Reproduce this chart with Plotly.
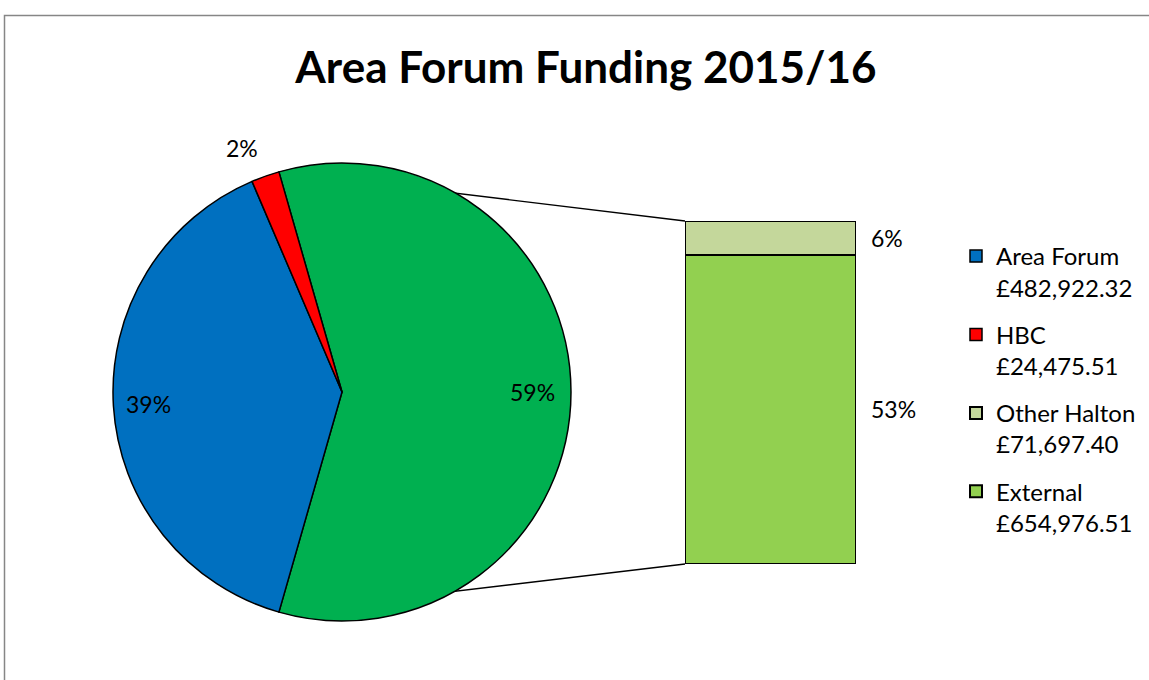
import math
import plotly.graph_objects as go

# ---------------- data ----------------
categories = ["Area Forum", "HBC", "Other Halton", "External"]
amounts = [482922.32, 24475.51, 71697.40, 654976.51]
amount_labels = ["£482,922.32", "£24,475.51", "£71,697.40", "£654,976.51"]
colors = ["#0070C0", "#FF0000", "#C4D79B", "#92D050"]
other_color = "#00B050"
title_text = "Area Forum Funding 2015/16"

# ---------------- layout constants (page pixels) ----------------
W, H = 1149, 680
FONT = "Lato"
pie_cx, pie_cy, pie_r = 342, 392, 229
bar_x0, bar_x1, bar_ytop, bar_ybot = 685, 856, 221, 564

def px(x):
    return x / W

def py(y):
    return 1 - y / H

total = sum(amounts)
other_total = amounts[2] + amounts[3]
pie_labels = ["Other", categories[0], categories[1]]
pie_values = [other_total, amounts[0], amounts[1]]
pie_colors = [other_color, colors[0], colors[1]]

other_deg = other_total / total * 360.0
rotation = 90 - other_deg / 2  # compass angle where the "Other" slice starts

fig = go.Figure()

fig.add_trace(go.Pie(
    labels=pie_labels, values=pie_values, sort=False, direction="clockwise",
    rotation=rotation, textinfo="none", hoverinfo="label+value+percent",
    marker=dict(colors=pie_colors, line=dict(color="black", width=1.5)),
    domain=dict(x=[px(pie_cx - pie_r), px(pie_cx + pie_r)],
                y=[py(pie_cy + pie_r), py(pie_cy - pie_r)]),
    showlegend=False,
))

# dummy legend items for pie categories
for i in range(2):
    fig.add_trace(go.Bar(
        x=[None], y=[None], name=f"{categories[i]}<br>{amount_labels[i]}",
        marker=dict(color=colors[i], line=dict(color="black", width=1.5)),
        legendrank=i + 1, legendgroup=categories[i], xaxis="x", yaxis="y",
    ))

# stacked bar (External bottom, Other Halton top)
for i in (3, 2):
    fig.add_trace(go.Bar(
        x=[0], y=[amounts[i]], width=[1], name=f"{categories[i]}<br>{amount_labels[i]}",
        marker=dict(color=colors[i], line=dict(color="black", width=2)),
        legendrank=i + 1, legendgroup=categories[i], xaxis="x", yaxis="y",
        hoverinfo="name+y",
    ))

annotations = []
# pie percent labels
label_r = [0.834, 0.846, 1.15]
label_dang = [0, 0, -2.7]
cum = 0.0
for j, v in enumerate(pie_values):
    start = rotation + cum / total * 360
    cum += v
    end = rotation + cum / total * 360
    mid = math.radians((start + end) / 2 + label_dang[j])
    rr = pie_r * label_r[j]
    lx = pie_cx + rr * math.sin(mid)
    ly = pie_cy - rr * math.cos(mid)
    annotations.append(dict(
        x=px(lx), y=py(ly), xref="paper", yref="paper", showarrow=False,
        text=f"{round(v / total * 100)}%", font=dict(family=FONT, size=23, color="black"),
        xanchor="center", yanchor="middle",
    ))

# bar percent labels
base = 0.0
for i in (3, 2):
    annotations.append(dict(
        x=0.5, y=base + amounts[i] / 2, xref="x", yref="y", showarrow=False,
        text=f"{round(amounts[i] / total * 100)}%", font=dict(family=FONT, size=23, color="black"),
        xanchor="left", yanchor="middle", xshift=13,
    ))
    base += amounts[i]

# connector lines from pie "Other" slice edges to bar corners
a0 = math.radians(rotation)
a1 = math.radians(rotation + other_deg)
shapes = [
    dict(type="line", xref="paper", yref="paper",
         x0=px(pie_cx + pie_r * math.sin(a0)), y0=py(pie_cy - pie_r * math.cos(a0)),
         x1=px(bar_x0), y1=py(bar_ytop), line=dict(color="black", width=1.4), layer="below"),
    dict(type="line", xref="paper", yref="paper",
         x0=px(pie_cx + pie_r * math.sin(a1)), y0=py(pie_cy - pie_r * math.cos(a1)),
         x1=px(bar_x0), y1=py(bar_ybot), line=dict(color="black", width=1.4), layer="below"),
    # chart area border
    dict(type="rect", xref="paper", yref="paper", x0=px(4.5), y0=py(15.5), x1=1.05, y1=-0.05,
         line=dict(color="#868686", width=1.5), fillcolor="rgba(0,0,0,0)"),
]

fig.update_layout(
    width=W, height=H, margin=dict(l=0, r=0, t=0, b=0),
    paper_bgcolor="white", plot_bgcolor="rgba(0,0,0,0)",
    font=dict(family=FONT, size=23, color="black"),
    title=dict(text=f"<b>{title_text}</b>", x=px(586), y=py(68), xanchor="center",
               yanchor="middle", xref="paper", yref="paper",
               font=dict(family=FONT, size=44, color="black")),
    barmode="stack", bargap=0,
    xaxis=dict(domain=[px(bar_x0), px(bar_x1)], range=[-0.5, 0.5], visible=False, fixedrange=True),
    yaxis=dict(domain=[py(bar_ybot), py(bar_ytop)], range=[0, other_total], visible=False, fixedrange=True),
    legend=dict(x=px(956), y=py(234), xanchor="left", yanchor="top", valign="top",
                tracegroupgap=13, font=dict(family=FONT, size=24, color="black"),
                bgcolor="rgba(0,0,0,0)", itemclick=False, itemdoubleclick=False),
    annotations=annotations, shapes=shapes,
)

fig.write_html(
    "out.html",
    config={"displayModeBar": False},
    post_script="document.body.style.margin='0';document.body.style.overflow='hidden';",
)
